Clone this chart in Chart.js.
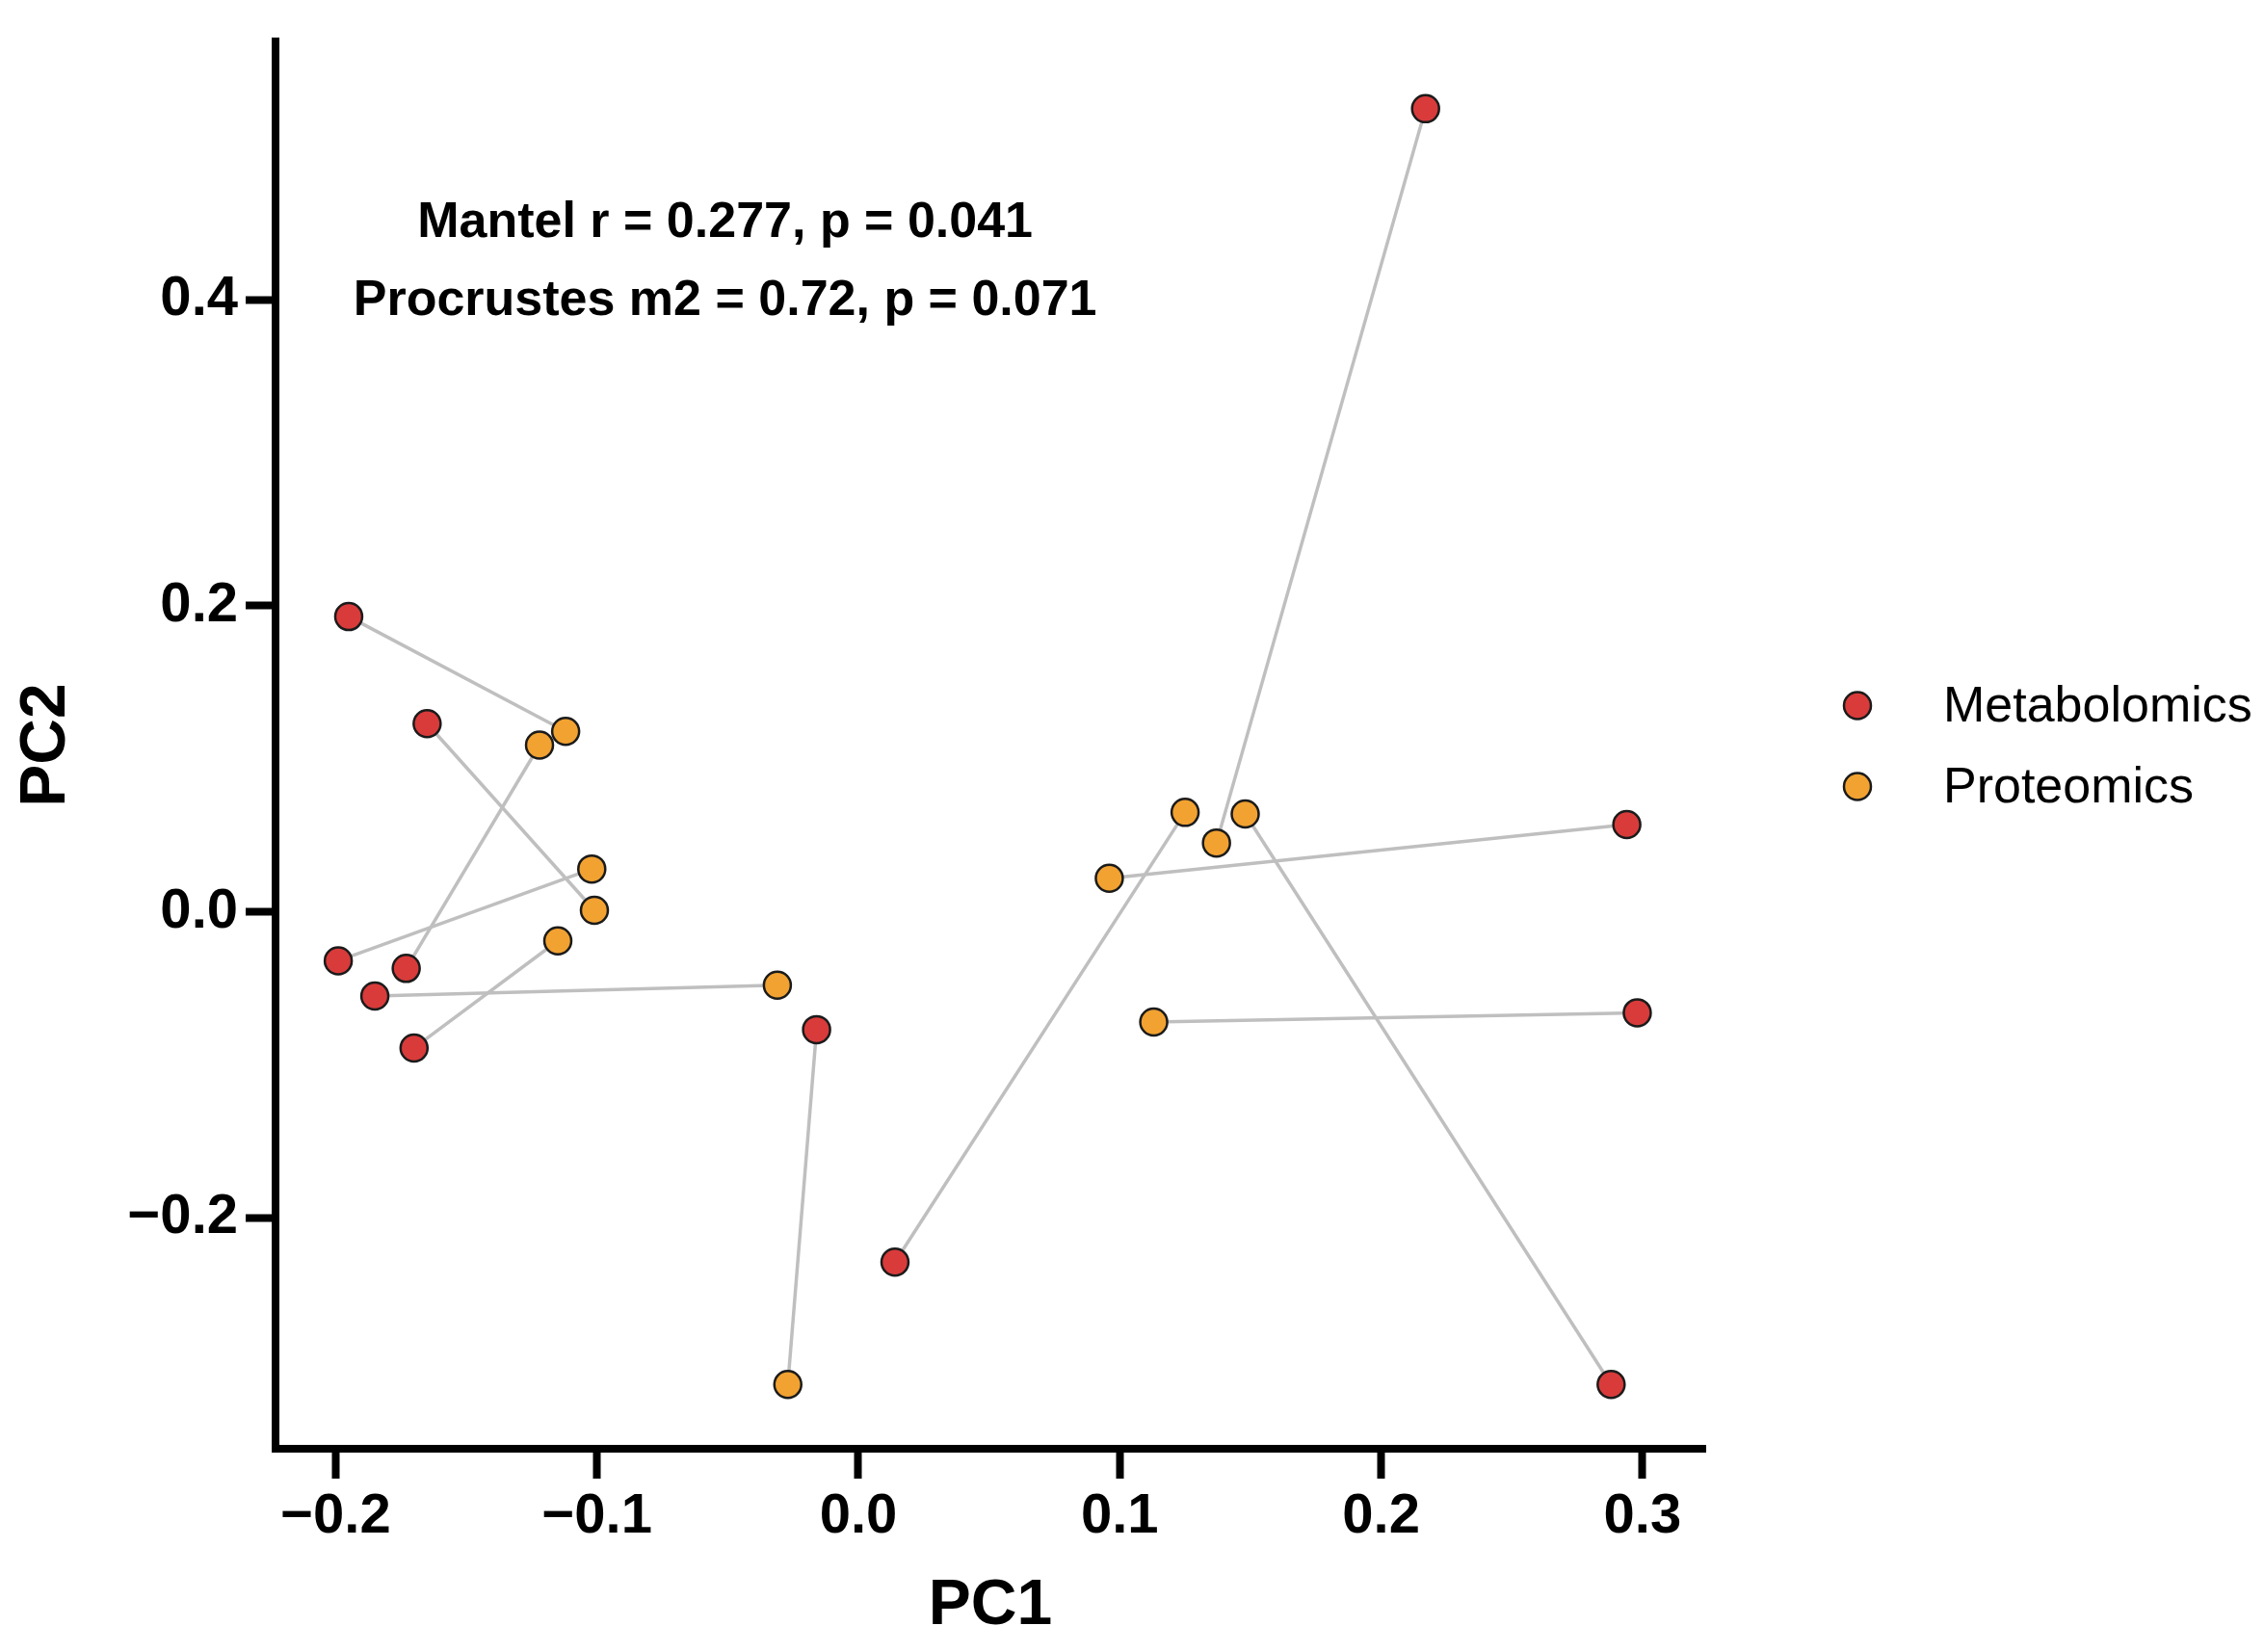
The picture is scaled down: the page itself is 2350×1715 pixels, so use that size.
<!DOCTYPE html>
<html>
<head>
<meta charset="utf-8">
<title>Procrustes PCA</title>
<script src="https://cdn.jsdelivr.net/npm/chart.js@4/dist/chart.umd.min.js"></script>
<style>
  html, body { margin:0; padding:0; background:#fff; }
  #wrap { width:2350px; height:1715px; }
</style>
</head>
<body>
<div id="wrap"><canvas id="pca" width="2350" height="1715"></canvas></div>
<script>
// ====== data ======
// pairs: metabolomics[i] <-> proteomics[i]
const metaX = [0.217, -0.195, -0.165, -0.199, -0.173, -0.185, -0.170, -0.016, 0.014, 0.294, 0.298, 0.288];
const metaY = [0.525, 0.193, 0.123, -0.032, -0.037, -0.055, -0.089, -0.077, -0.229, 0.057, -0.066, -0.309];
const protX = [0.137, -0.112, -0.101, -0.102, -0.122, -0.031, -0.115, -0.027, 0.125, 0.096, 0.113, 0.148];
const protY = [0.045, 0.118, 0.001, 0.028, 0.109, -0.048, -0.019, -0.309, 0.065, 0.022, -0.072, 0.064];

const xTicks = [-0.2, -0.1, 0.0, 0.1, 0.2, 0.3];
const xTickLabels = ['\u22120.2', '\u22120.1', '0.0', '0.1', '0.2', '0.3'];
const yTicks = [-0.2, 0.0, 0.2, 0.4];
const yTickLabels = ['\u22120.2', '0.0', '0.2', '0.4'];

const seriesNames = ['Metabolomics', 'Proteomics'];
const statLines = ['Mantel r = 0.277, p = 0.041', 'Procrustes m2 = 0.72, p = 0.071'];

// ====== style ======
const FONT = '"Liberation Sans", Arial, Helvetica, sans-serif';
const RED = '#D93B3B';
const ORANGE = '#F2A231';
const EDGE = '#1b1b1b';
const LINK = '#BFBFBF';

const toPts = (xs, ys) => xs.map((x, i) => ({ x, y: ys[i] }));

// grey links between the two projections of each sample
const linkSets = metaX.map((x, i) => ({
  type: 'line',
  data: [{ x: metaX[i], y: metaY[i] }, { x: protX[i], y: protY[i] }],
  borderColor: LINK,
  borderWidth: 3.5,
  pointRadius: 0,
  fill: false,
  order: 2
}));

const pointSet = (label, pts, color) => ({
  type: 'scatter',
  label,
  data: pts,
  pointRadius: 14,
  pointBackgroundColor: color,
  pointBorderColor: EDGE,
  pointBorderWidth: 2.5,
  order: 1
});

// ====== text + legend drawn on top ======
const extras = {
  id: 'extras',
  afterDraw(chart) {
    const { ctx, chartArea, scales } = chart;
    ctx.save();
    // stats text
    ctx.fillStyle = '#000';
    ctx.font = 'bold 52px ' + FONT;
    ctx.textAlign = 'center';
    ctx.textBaseline = 'middle';
    const cx = scales.x.getPixelForValue(-0.051);
    ctx.fillText(statLines[0], cx, scales.y.getPixelForValue(0.450));
    ctx.fillText(statLines[1], cx, scales.y.getPixelForValue(0.399));

    // legend
    const lx = chartArea.right + 158;
    const midY = (chartArea.top + chartArea.bottom) / 2;
    const rows = [midY - 41, midY + 43];
    ctx.font = '52px ' + FONT;
    ctx.textAlign = 'left';
    [RED, ORANGE].forEach((c, i) => {
      ctx.beginPath();
      ctx.arc(lx, rows[i], 14, 0, Math.PI * 2);
      ctx.fillStyle = c;
      ctx.fill();
      ctx.lineWidth = 2.5;
      ctx.strokeStyle = EDGE;
      ctx.stroke();
      ctx.fillStyle = '#000';
      ctx.fillText(seriesNames[i], lx + 89, rows[i] + 2);
    });
    ctx.restore();
  }
};

const tickFont = { family: FONT, size: 58, weight: 'bold' };
const titleFont = { family: FONT, size: 66, weight: 'bold' };

new Chart(document.getElementById('pca'), {
  type: 'scatter',
  data: {
    datasets: [
      pointSet(seriesNames[0], toPts(metaX, metaY), RED),
      pointSet(seriesNames[1], toPts(protX, protY), ORANGE),
      ...linkSets
    ]
  },
  options: {
    responsive: false,
    devicePixelRatio: 1,
    animation: false,
    layout: { padding: { top: 43, right: 580, bottom: 0, left: 0 } },
    plugins: {
      legend: { display: false },
      tooltip: { enabled: false }
    },
    scales: {
      x: {
        type: 'linear',
        min: -0.223,
        max: 0.324,
        afterBuildTicks: s => { s.ticks = xTicks.map(v => ({ value: v })); },
        afterFit: s => { s.height = 211; },
        ticks: {
          color: '#000',
          font: tickFont,
          padding: 5,
          maxRotation: 0,
          callback: v => xTickLabels[xTicks.indexOf(Math.round(v * 10) / 10)]
        },
        grid: { drawOnChartArea: false, drawTicks: true, tickLength: 31, tickWidth: 8, tickColor: '#000' },
        border: { display: true, width: 8, color: '#000' },
        title: { display: true, text: 'PC1', color: '#000', font: titleFont, padding: { top: 0, bottom: 8 } }
      },
      y: {
        type: 'linear',
        min: -0.351,
        max: 0.569,
        afterBuildTicks: s => { s.ticks = yTicks.map(v => ({ value: v })); },
        afterFit: s => { s.width = 286; },
        ticks: {
          color: '#000',
          font: tickFont,
          padding: 8,
          callback: v => yTickLabels[yTicks.indexOf(Math.round(v * 10) / 10)]
        },
        grid: { drawOnChartArea: false, drawTicks: true, tickLength: 31, tickWidth: 8, tickColor: '#000' },
        border: { display: true, width: 8, color: '#000' },
        title: { display: true, text: 'PC2', color: '#000', font: titleFont, padding: { top: 9, bottom: 0 } }
      }
    }
  },
  plugins: [extras]
});
</script>
</body>
</html>
